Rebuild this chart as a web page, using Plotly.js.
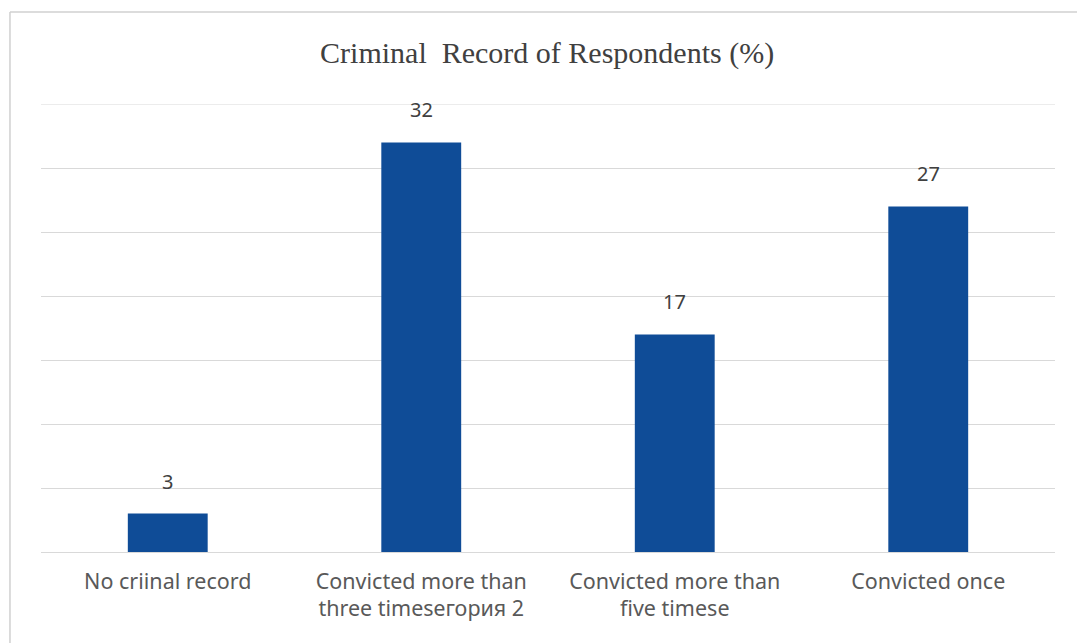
<!DOCTYPE html>
<html>
<head>
<meta charset="utf-8">
<script src="https://cdn.plot.ly/plotly-3.0.1.min.js"></script>
<style>
html,body{margin:0;padding:0;background:#fff;}
#chart{width:1077px;height:643px;}
</style>
</head>
<body>
<div id="chart"></div>
<script>
var categories = ["No criinal record", "Convicted more than three timesегория 2", "Convicted more than five timese", "Convicted once"];
var tickLabels = ["No criinal record", "Convicted more than<br>three timesегория 2", "Convicted more than<br>five timese", "Convicted once"];
var values = [3, 32, 17, 27];
var chartTitle = "Criminal&nbsp; Record of Respondents (%)";
var yMax = 35;

var trace = {
  type: "bar",
  x: categories,
  y: values,
  marker: {color: "#0F4C97"},
  hoverinfo: "x+y"
};

var annotations = categories.map(function(c, i){
  return {
    x: c, y: values[i], xref: "x", yref: "y",
    text: String(values[i]), showarrow: false,
    yanchor: "bottom", yshift: 17,
    font: {family: "Noto Sans, sans-serif", size: 20, color: "#404040"}
  };
});

var layout = {
  width: 1077, height: 643,
  margin: {l: 41, r: 22, t: 104, b: 91},
  paper_bgcolor: "#ffffff",
  plot_bgcolor: "#ffffff",
  showlegend: false,
  bargap: 0.685,
  title: {
    text: chartTitle,
    x: 0.508, xanchor: "center",
    y: 0.918, yanchor: "middle",
    font: {family: "Liberation Serif, serif", size: 30, color: "#404040"}
  },
  xaxis: {
    type: "category",
    tickmode: "array",
    tickvals: categories,
    ticktext: tickLabels,
    showgrid: false,
    showline: false,
    ticks: "",
    ticklabelstandoff: 14,
    tickfont: {family: "Noto Sans, sans-serif", size: 21.5, color: "#595959"}
  },
  yaxis: {
    range: [0, yMax],
    dtick: 5,
    showticklabels: false,
    showgrid: true,
    gridcolor: "#d9d9d9",
    gridwidth: 1,
    zeroline: true,
    zerolinecolor: "#d9d9d9",
    zerolinewidth: 1,
    showline: false,
    ticks: ""
  },
  annotations: annotations,
  shapes: [
    {type: "line", xref: "paper", yref: "y", x0: 0, x1: 1, y0: yMax, y1: yMax, line: {color: "#d9d9d9", width: 1}, layer: "below"},
    {type: "line", xref: "paper", yref: "paper", x0: -0.0306, x1: 1.1, y0: 1.2054, y1: 1.2054, line: {color: "#d0d0d0", width: 1.5}},
    {type: "line", xref: "paper", yref: "paper", x0: -0.0306, x1: -0.0306, y0: 1.2054, y1: -0.3, line: {color: "#d0d0d0", width: 1.5}}
  ]
};

Plotly.newPlot("chart", [trace], layout, {displayModeBar: false, responsive: false});
</script>
</body>
</html>
